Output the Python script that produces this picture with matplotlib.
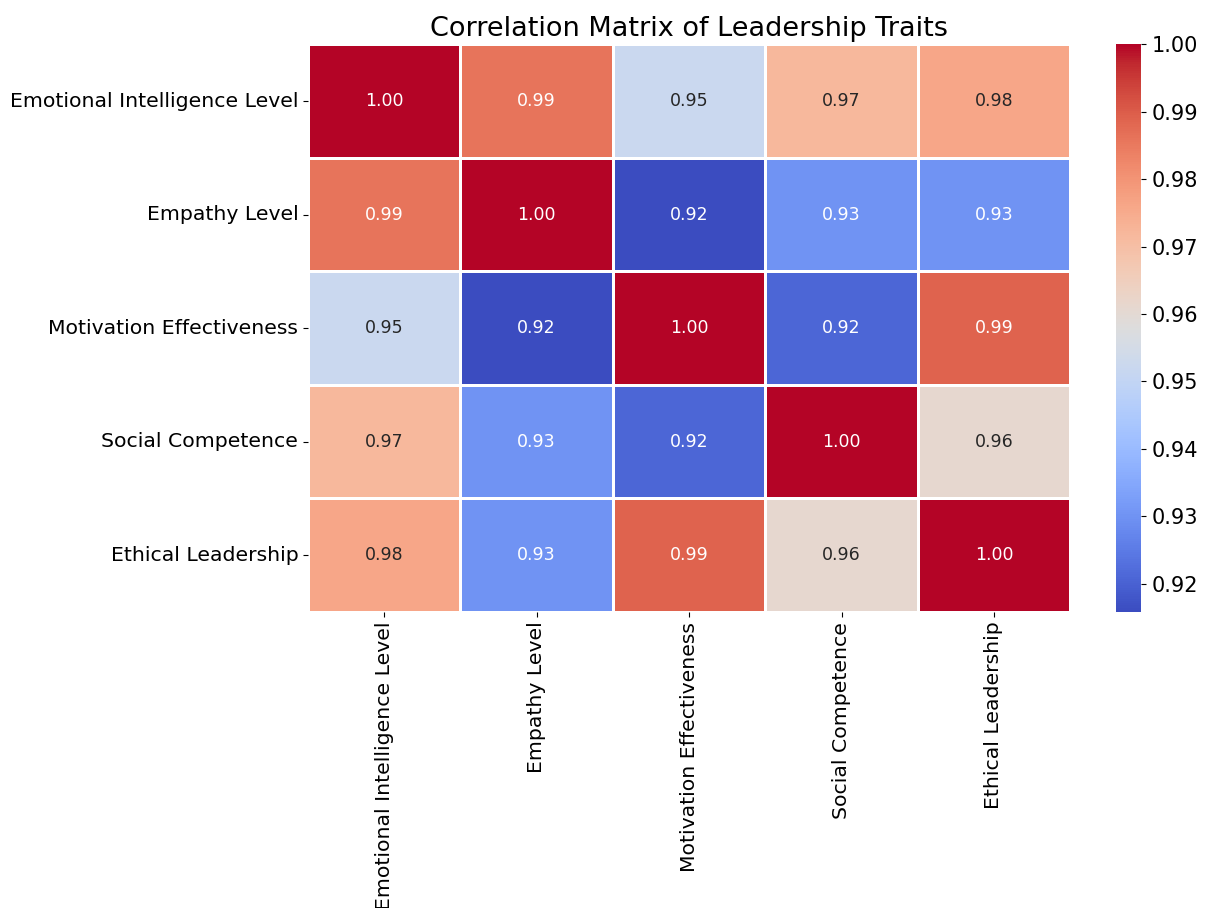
import matplotlib
matplotlib.use("Agg")
import matplotlib.pyplot as plt
import numpy as np
import pandas as pd
import seaborn as sns

traits = ["Emotional Intelligence Level", "Empathy Level", "Motivation Effectiveness",
          "Social Competence", "Ethical Leadership"]

# correlation values (upper triangle, row by row)
ei = [1.000, 0.986, 0.952, 0.972, 0.976]
emp = [0.986, 1.000, 0.9158, 0.930, 0.930]
mot = [0.952, 0.9158, 1.000, 0.921, 0.989]
soc = [0.972, 0.930, 0.921, 1.000, 0.961]
eth = [0.976, 0.930, 0.989, 0.961, 1.000]

corr = pd.DataFrame([ei, emp, mot, soc, eth], index=traits, columns=traits)

fig = plt.figure(figsize=(12.06, 9.08), dpi=100)
ax = fig.add_axes([0.2554, 0.326, 0.632, 0.625])
cax = fig.add_axes([0.925, 0.326, 0.0215, 0.625])
sns.heatmap(corr, annot=True, fmt=".2f", cmap="coolwarm", linewidths=1,
            linecolor="white", ax=ax, cbar_ax=cax, annot_kws={"size": 12.5})
ax.set_title("Correlation Matrix of Leadership Traits", fontsize=19.5)
ax.tick_params(axis="both", labelsize=14.7)
plt.setp(ax.get_xticklabels(), rotation=90)
plt.setp(ax.get_yticklabels(), rotation=0)
cax.tick_params(labelsize=15)
plt.savefig("out.png", dpi=100)
plt.close()
